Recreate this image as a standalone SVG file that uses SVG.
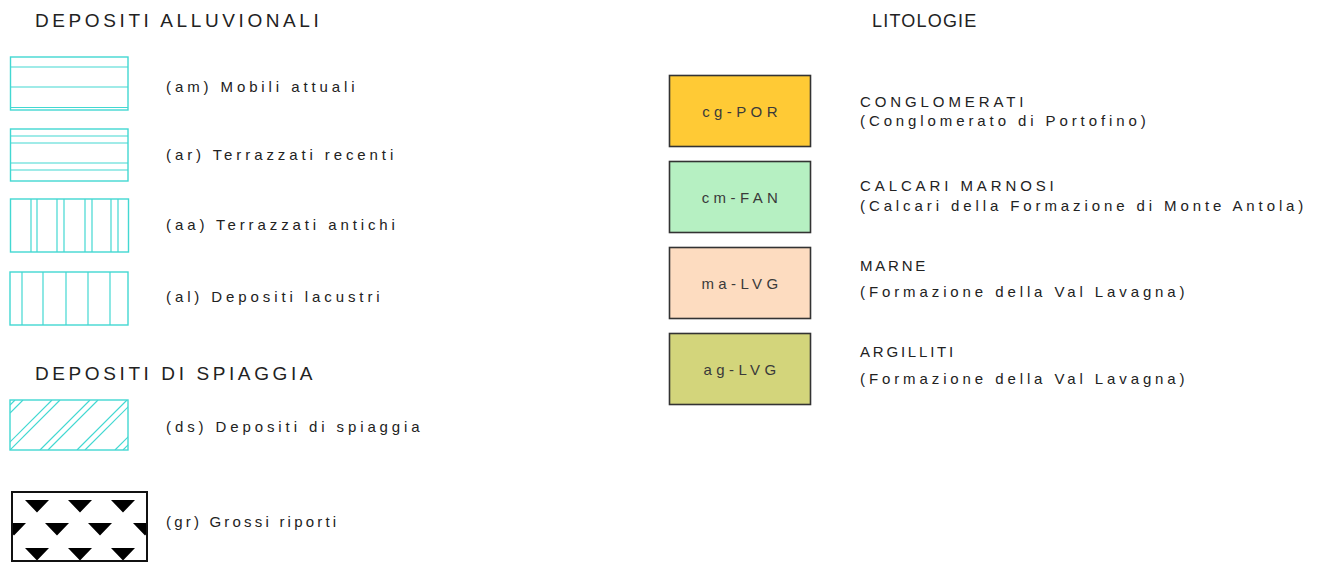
<svg xmlns="http://www.w3.org/2000/svg" width="1330" height="563" viewBox="0 0 1330 563">
  <style>
    .hdr { font-family: "Liberation Sans", Arial, sans-serif; font-size: 19px; letter-spacing: 3.6px; fill: #222; }
    .lbl { font-family: "Liberation Sans", Arial, sans-serif; font-size: 15px; letter-spacing: 3.9px; fill: #222; }
    .code { font-family: "Liberation Sans", Arial, sans-serif; font-size: 15px; letter-spacing: 4.4px; fill: #3a3a3a; text-anchor: middle; }
    .cy { fill: none; stroke: #42d8d2; stroke-width: 1.4; }
    .cyl { stroke: #42d8d2; stroke-width: 1.2; }
    .lit { stroke: #333; stroke-width: 1.6; }
    .tri { fill: #000; }
  </style>
  <defs>
    <clipPath id="clipDs"><rect x="10" y="400" width="118" height="50"/></clipPath>
    <clipPath id="clipGr"><rect x="12" y="492" width="135" height="70"/></clipPath>
  </defs>
  <rect width="1330" height="563" fill="#fff"/>

  <!-- section headers -->
  <text class="hdr" x="35" y="27">DEPOSITI ALLUVIONALI</text>
  <text class="hdr" x="35" y="380">DEPOSITI DI SPIAGGIA</text>
  <text class="hdr" x="872" y="27" style="font-size:18px;letter-spacing:1.2px">LITOLOGIE</text>

  <!-- alluvial deposits -->
  <g id="am">
    <rect class="cy" x="10.5" y="57" width="117.5" height="53"/>
    <line class="cyl" x1="10.5" y1="67" x2="128" y2="67"/>
    <line class="cyl" x1="10.5" y1="87" x2="128" y2="87"/>
    <line class="cyl" x1="10.5" y1="107.5" x2="128" y2="107.5"/>
    <text class="lbl" x="166" y="92">(am) Mobili attuali</text>
  </g>
  <g id="ar">
    <rect class="cy" x="10.5" y="129" width="117.5" height="52"/>
    <line class="cyl" x1="10.5" y1="136" x2="128" y2="136"/>
    <line class="cyl" x1="10.5" y1="143" x2="128" y2="143"/>
    <line class="cyl" x1="10.5" y1="163" x2="128" y2="163"/>
    <line class="cyl" x1="10.5" y1="170" x2="128" y2="170"/>
    <text class="lbl" x="166" y="160">(ar) Terrazzati recenti</text>
  </g>
  <g id="aa">
    <rect class="cy" x="10.5" y="199" width="118" height="53"/>
    <line class="cyl" x1="31" y1="199" x2="31" y2="252"/>
    <line class="cyl" x1="37" y1="199" x2="37" y2="252"/>
    <line class="cyl" x1="57" y1="199" x2="57" y2="252"/>
    <line class="cyl" x1="64" y1="199" x2="64" y2="252"/>
    <line class="cyl" x1="85" y1="199" x2="85" y2="252"/>
    <line class="cyl" x1="92" y1="199" x2="92" y2="252"/>
    <line class="cyl" x1="111" y1="199" x2="111" y2="252"/>
    <line class="cyl" x1="118" y1="199" x2="118" y2="252"/>
    <text class="lbl" x="166" y="230">(aa) Terrazzati antichi</text>
  </g>
  <g id="al">
    <rect class="cy" x="10" y="272" width="118" height="53"/>
    <line class="cyl" x1="22" y1="272" x2="22" y2="325"/>
    <line class="cyl" x1="43" y1="272" x2="43" y2="325"/>
    <line class="cyl" x1="66" y1="272" x2="66" y2="325"/>
    <line class="cyl" x1="88" y1="272" x2="88" y2="325"/>
    <line class="cyl" x1="110" y1="272" x2="110" y2="325"/>
    <text class="lbl" x="166" y="302">(al) Depositi lacustri</text>
  </g>

  <!-- beach deposits -->
  <g id="ds">
    <g clip-path="url(#clipDs)">
      <line class="cyl" x1="15" y1="400" x2="10" y2="405"/>
      <line class="cyl" x1="23" y1="400" x2="10" y2="413"/>
      <line class="cyl" x1="52" y1="400" x2="2" y2="450"/>
      <line class="cyl" x1="60" y1="400" x2="10" y2="450"/>
      <line class="cyl" x1="90" y1="400" x2="40" y2="450"/>
      <line class="cyl" x1="98" y1="400" x2="48" y2="450"/>
      <line class="cyl" x1="127" y1="400" x2="77" y2="450"/>
      <line class="cyl" x1="135" y1="400" x2="85" y2="450"/>
      <line class="cyl" x1="165" y1="400" x2="115" y2="450"/>
      <line class="cyl" x1="173" y1="400" x2="123" y2="450"/>
    </g>
    <rect class="cy" x="10" y="400" width="118" height="50"/>
    <text class="lbl" x="166" y="432">(ds) Depositi di spiaggia</text>
  </g>

  <g id="gr">
    <g clip-path="url(#clipGr)">
      <path class="tri" d="M25,500 h24 l-12,12.5 z M68,500 h24 l-12,12.5 z M111,500 h24 l-12,12.5 z"/>
      <path class="tri" d="M2,523 h24 l-12,12.5 z M45,523 h24 l-12,12.5 z M88,523 h24 l-12,12.5 z M133,523 h24 l-12,12.5 z"/>
      <path class="tri" d="M25,548 h24 l-12,12.5 z M68,548 h24 l-12,12.5 z M111,548 h24 l-12,12.5 z"/>
    </g>
    <rect x="12" y="492" width="135" height="69" fill="none" stroke="#111" stroke-width="2"/>
    <text class="lbl" x="166" y="527" style="letter-spacing:3.2px">(gr) Grossi riporti</text>
  </g>

  <!-- lithologies -->
  <g id="cg-POR">
    <rect class="lit" x="669.5" y="75.5" width="141" height="71" fill="#ffca35"/>
    <text class="code" x="742" y="117">cg-POR</text>
    <text class="lbl" x="860" y="107">CONGLOMERATI</text>
    <text class="lbl" x="860" y="126">(Conglomerato di Portofino)</text>
  </g>
  <g id="cm-FAN">
    <rect class="lit" x="669.5" y="161.5" width="141" height="71" fill="#b6f0c2"/>
    <text class="code" x="742" y="203">cm-FAN</text>
    <text class="lbl" x="860" y="191">CALCARI MARNOSI</text>
    <text class="lbl" x="860" y="211">(Calcari della Formazione di Monte Antola)</text>
  </g>
  <g id="ma-LVG">
    <rect class="lit" x="669.5" y="247.5" width="141" height="71" fill="#fddcc0"/>
    <text class="code" x="742" y="289">ma-LVG</text>
    <text class="lbl" x="860" y="271" style="letter-spacing:2.8px">MARNE</text>
    <text class="lbl" x="860" y="297">(Formazione della Val Lavagna)</text>
  </g>
  <g id="ag-LVG">
    <rect class="lit" x="669.5" y="333.5" width="141" height="71" fill="#d3d57b"/>
    <text class="code" x="742" y="375">ag-LVG</text>
    <text class="lbl" x="860" y="357" style="letter-spacing:2.8px">ARGILLITI</text>
    <text class="lbl" x="860" y="384">(Formazione della Val Lavagna)</text>
  </g>

  <!-- no connectors in this legend -->
  <g id="connectors"/>
</svg>
